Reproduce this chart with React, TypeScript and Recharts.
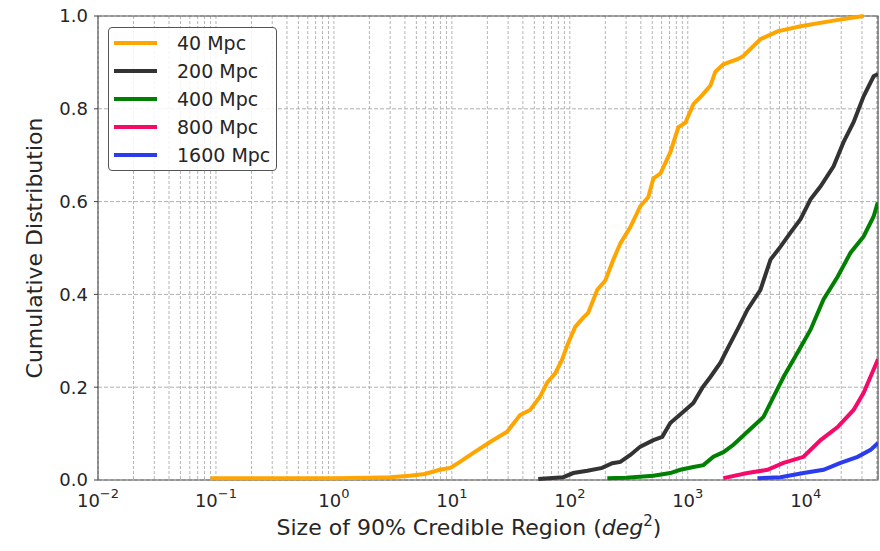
import { CartesianGrid, Legend, Line, LineChart, ReferenceArea, XAxis, YAxis } from "recharts";

// credible-region sizes (deg^2) and cumulative fractions
const area40 = [0.09, 0.5, 1, 2, 3, 4.4, 5.9, 7.9, 9.7, 11.7, 15.1, 21.1, 29.4, 37.9, 46.1, 56.1, 64.3, 75.2, 86.2, 95, 111, 130, 143, 171, 200, 234, 268, 326, 396, 463, 511, 585, 711, 832, 955, 1116, 1331, 1556, 1715, 2005, 2637, 2965, 4133, 5765, 9036, 17220, 30970];
const cdf40 = [0.004, 0.004, 0.004, 0.005, 0.006, 0.009, 0.013, 0.022, 0.026, 0.039, 0.058, 0.082, 0.104, 0.14, 0.151, 0.18, 0.21, 0.23, 0.26, 0.29, 0.33, 0.35, 0.36, 0.41, 0.43, 0.475, 0.51, 0.545, 0.59, 0.61, 0.65, 0.66, 0.706, 0.76, 0.77, 0.81, 0.83, 0.85, 0.88, 0.896, 0.907, 0.914, 0.95, 0.967, 0.978, 0.99, 1.0];

const area200 = [54, 88, 107, 141, 188, 229, 268, 326, 396, 511, 608, 711, 918, 1116, 1331, 1556, 1892, 2213, 2637, 3206, 4133, 5027, 6114, 7431, 9036, 10990, 13370, 17220, 20920, 25460, 30970, 37640, 41000];
const cdf200 = [0.002, 0.006, 0.015, 0.02, 0.026, 0.036, 0.039, 0.054, 0.072, 0.086, 0.093, 0.123, 0.147, 0.166, 0.199, 0.222, 0.253, 0.287, 0.324, 0.367, 0.41, 0.475, 0.503, 0.533, 0.562, 0.605, 0.633, 0.676, 0.728, 0.771, 0.827, 0.87, 0.875];

const area400 = [208, 300, 511, 711, 865, 1116, 1356, 1649, 2005, 2438, 3206, 4385, 5330, 6480, 8510, 10990, 14150, 18630, 24000, 30970, 37640, 40800];
const cdf400 = [0.004, 0.005, 0.009, 0.015, 0.022, 0.028, 0.032, 0.05, 0.06, 0.076, 0.104, 0.136, 0.179, 0.222, 0.274, 0.324, 0.389, 0.438, 0.49, 0.525, 0.568, 0.598];

const area800 = [2005, 3206, 4742, 6480, 9580, 13370, 18630, 25460, 30970, 37640, 41000];
const cdf800 = [0.004, 0.015, 0.022, 0.037, 0.05, 0.086, 0.114, 0.151, 0.188, 0.238, 0.26];

const area1600 = [3899, 6114, 9580, 14150, 19730, 27540, 35500, 41000];
const cdf1600 = [0.004, 0.006, 0.015, 0.022, 0.037, 0.05, 0.065, 0.08];

const majorTicks = [0.01, 0.1, 1, 10, 100, 1000, 10000];
const majorExponents = ["\u22122", "\u22121", "0", "1", "2", "3", "4"];
const minorSteps = [2, 3, 4, 5, 6, 7, 8, 9];
const yTicks = [0, 0.2, 0.4, 0.6, 0.8, 1.0];

const X_MAX = 41000;
const xTicks = [
  ...majorTicks,
  ...majorTicks.flatMap((d) => minorSteps.map((m) => +(d * m).toPrecision(3))).filter((v) => v <= X_MAX),
].sort((a, b) => a - b);

const toPoints = (xs: number[], ys: number[]) => xs.map((x, i) => ({ x, y: ys[i] }));

const series = [
  { name: "40 Mpc", color: "#ffa500", data: toPoints(area40, cdf40) },
  { name: "200 Mpc", color: "#333333", data: toPoints(area200, cdf200) },
  { name: "400 Mpc", color: "#008000", data: toPoints(area400, cdf400) },
  { name: "800 Mpc", color: "#f50a6a", data: toPoints(area800, cdf800) },
  { name: "1600 Mpc", color: "#2a3cee", data: toPoints(area1600, cdf1600) },
];

const font = "'DejaVu Sans', sans-serif";
const textColor = "#262626";

const LogTick = ({ x, y, payload }: any) => {
  const idx = majorTicks.indexOf(payload.value);
  if (idx < 0) return null;
  return (
    <text x={x} y={y + 27} textAnchor="middle" fontSize={18} fill={textColor} fontFamily={font}>
      <tspan>10</tspan>
      <tspan dy={-9} fontSize={13}>{majorExponents[idx]}</tspan>
    </text>
  );
};

const LegendBox = () => (
  <div
    style={{
      width: 169,
      height: 144,
      boxSizing: "border-box",
      border: "1.3px solid #555",
      borderRadius: 4,
      background: "rgba(255,255,255,0.85)",
      paddingTop: 1,
      fontFamily: font,
      fontSize: 19,
      color: textColor,
    }}
  >
    {series.map((s) => (
      <div key={s.name} style={{ display: "flex", alignItems: "center", height: 28 }}>
        <div style={{ width: 43, height: 4, background: s.color, marginLeft: 5, marginRight: 20 }} />
        <span>{s.name}</span>
      </div>
    ))}
  </div>
);

export default function App() {
  return (
    <div style={{ position: "absolute", left: 0, top: 0, width: 880, height: 551, background: "#fff", fontFamily: font }}>
      <LineChart width={880} height={551} margin={{ top: 16, right: 2, left: 0, bottom: 0 }}>
        <CartesianGrid horizontal={false} stroke="#b5b5b5" strokeDasharray="3 2" strokeWidth={1} />
        <CartesianGrid vertical={false} stroke="#b0b0b0" strokeDasharray="4 2" strokeWidth={1} />
        <XAxis
          type="number"
          dataKey="x"
          scale="log"
          domain={[0.01, X_MAX]}
          allowDataOverflow
          ticks={xTicks}
          interval={0}
          height={71}
          axisLine={false}
          tickLine={false}
          tickSize={0}
          tickMargin={0}
          tick={<LogTick />}
          label={{
            content: () => (
              <text x={469} y={535} textAnchor="middle" fontSize={22} fill={textColor} fontFamily={font}>
                Size of 90% Credible Region (<tspan fontStyle="italic">deg</tspan>
                <tspan dy={-9} fontSize={15}>2</tspan>
                <tspan dy={9}>)</tspan>
              </text>
            ),
          }}
        />
        <YAxis
          type="number"
          dataKey="y"
          domain={[0, 1]}
          ticks={yTicks}
          width={98}
          axisLine={false}
          tickSize={4}
          tickMargin={6}
          tickLine={{ stroke: "#444" }}
          tick={{ fontSize: 18, fill: textColor, fontFamily: font }}
          tickFormatter={(v: number) => v.toFixed(1)}
          label={{
            content: () => (
              <text
                x={34}
                y={248}
                transform="rotate(-90, 34, 248)"
                textAnchor="middle"
                dominantBaseline="central"
                fontSize={22}
                fill={textColor}
                fontFamily={font}
              >
                Cumulative Distribution
              </text>
            ),
          }}
        />
        {series.map((s) => (
          <Line
            key={s.name}
            data={s.data}
            dataKey="y"
            name={s.name}
            type="linear"
            stroke={s.color}
            strokeWidth={4}
            dot={false}
            activeDot={false}
            isAnimationActive={false}
          />
        ))}
        <ReferenceArea x1={0.01} x2={X_MAX} y1={0} y2={1} fill="none" stroke="#555" strokeWidth={1.2} />
        <Legend
          layout="vertical"
          align="center"
          verticalAlign="middle"
          wrapperStyle={{ left: 108, top: 27, width: 169 }}
          content={() => <LegendBox />}
        />
      </LineChart>
    </div>
  );
}
